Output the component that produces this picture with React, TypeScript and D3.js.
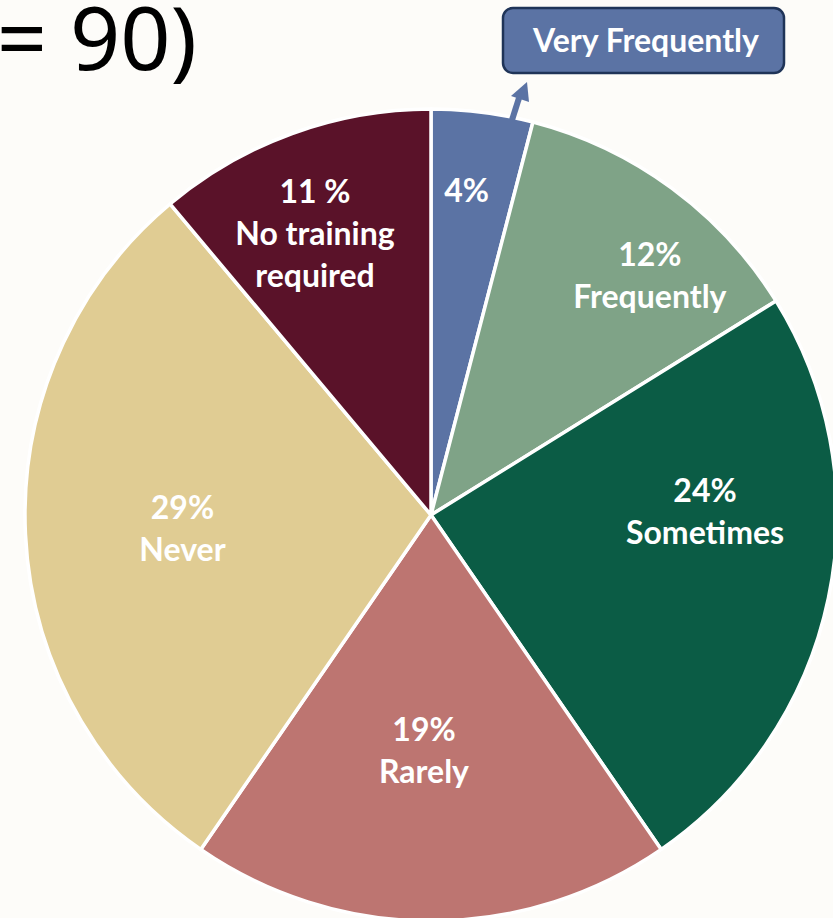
import React from "react";
import * as d3 from "d3";

const categories = ["Very Frequently", "Frequently", "Sometimes", "Rarely", "Never", "No training required"];
const values = [4, 12, 24, 19, 29, 11];
const percentLabels = ["4%", "12%", "24%", "19%", "29%", "11 %"];
const nameLines = [[], ["Frequently"], ["Sometimes"], ["Rarely"], ["Never"], ["No training", "required"]];
const colors = ["#5b73a4", "#7fa387", "#0b5c45", "#bd7571", "#e0cc93", "#5a1229"];
const titleText = "(n= 90)";

const W = 833;
const H = 918;
const cx = 431;
const cy = 515;
const R = 406;

// label placement: fraction of radius and angular offset (degrees) from slice middle
const labelRadiusFrac = [0.805, 0.8, 0.675, 0.58, 0.613, 0.75];
const labelAngleOffset = [-1, 6, -12.6, 1.7, -0.3, -2.4];

export default function App() {
  const pie = d3.pie<number>().sort(null).value((d) => d);
  const arcs = pie(values);
  const arc = d3.arc<d3.PieArcDatum<number>>().innerRadius(0).outerRadius(R);

  const font = "Lato, 'Open Sans', sans-serif";
  const fs = 32;
  const lh = 42;

  return (
    <svg width={W} height={H} style={{ position: "absolute", left: 0, top: 0, background: "#fdfcf9" }}>
      <rect x={0} y={0} width={W} height={H} fill="#fdfcf9" />
      <text x={197} y={70} textAnchor="end" fontFamily="'Noto Sans', sans-serif" fontSize={88} fill="#000">
        {titleText}
      </text>
      <g transform={`translate(${cx},${cy})`}>
        {arcs.map((a, i) => (
          <path key={i} d={arc(a) || ""} fill={colors[i]} stroke="#ffffff" strokeWidth={3.5} strokeLinejoin="round" />
        ))}
        {arcs.map((a, i) => {
          const mid = (a.startAngle + a.endAngle) / 2 + (labelAngleOffset[i] * Math.PI) / 180;
          const r = R * labelRadiusFrac[i];
          const x = Math.sin(mid) * r;
          const y = -Math.cos(mid) * r;
          const lines = [percentLabels[i], ...nameLines[i]];
          const y0 = y - ((lines.length - 1) * lh) / 2;
          return (
            <text key={i} textAnchor="middle" fontFamily={font} fontWeight={700} fontSize={fs} fill="#ffffff">
              {lines.map((t, j) => (
                <tspan key={j} x={x} y={y0 + j * lh + fs * 0.36}>
                  {t}
                </tspan>
              ))}
            </text>
          );
        })}
      </g>
      {/* callout arrow */}
      <line x1={512} y1={120} x2={519} y2={98} stroke={colors[0]} strokeWidth={6} />
      <polygon points="527,82 511,96 529,102" fill={colors[0]} />
      {/* callout box */}
      <rect x={503} y={8} width={281} height={65} rx={10} ry={10} fill={colors[0]} stroke="#1f3458" strokeWidth={2.5} />
      <text x={646} y={40 + fs * 0.36} textAnchor="middle" fontFamily={font} fontWeight={700} fontSize={fs} fill="#ffffff">
        {categories[0]}
      </text>
    </svg>
  );
}
